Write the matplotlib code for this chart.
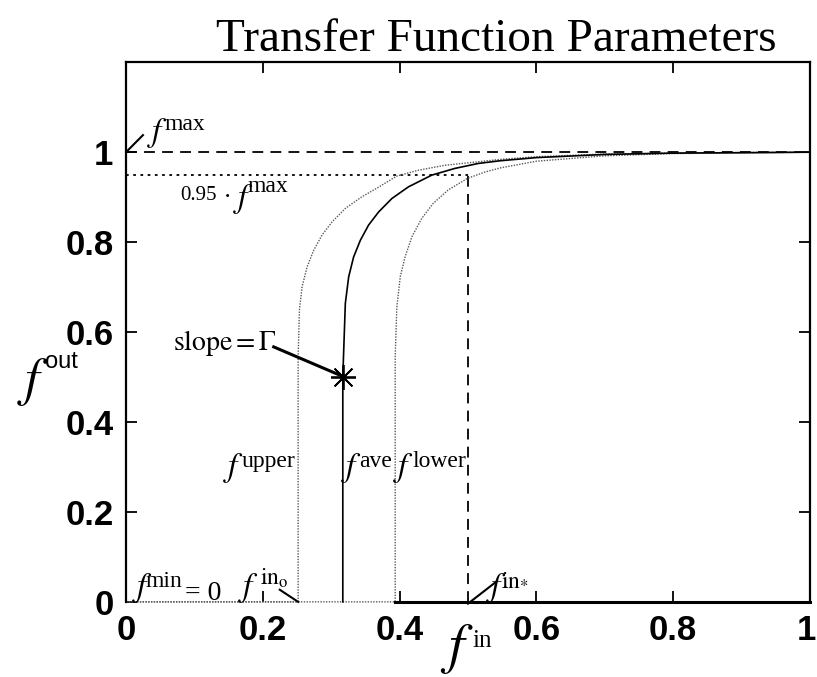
import matplotlib
matplotlib.use("Agg")
import matplotlib.pyplot as plt
from matplotlib.transforms import ScaledTranslation

plt.rcParams["mathtext.fontset"] = "stix"
plt.rcParams["font.family"] = ["Liberation Serif", "DejaVu Serif"]

# Transfer-function curves (f_in, f_out) for the three threshold settings
upper_x = [0.0, 0.2517, 0.2517, 0.2536, 0.2575, 0.2648, 0.2745, 0.2867, 0.3013, 0.3207,
           0.345, 0.369, 0.396, 0.4276, 0.4665, 0.510, 0.547, 0.60, 0.70, 0.80, 1.0]
upper_y = [0.0, 0.0, 0.545, 0.649, 0.701, 0.745, 0.782, 0.816, 0.845, 0.875,
           0.901, 0.922, 0.947, 0.960, 0.971, 0.978, 0.984, 0.990, 0.996, 0.998, 1.0]

ave_x = [0.317, 0.317, 0.318, 0.3207, 0.3256, 0.3328, 0.3426, 0.3547, 0.3693, 0.3887,
         0.413, 0.447, 0.481, 0.515, 0.547, 0.60, 0.70, 0.80, 1.0]
ave_y = [0.0, 0.50, 0.545, 0.664, 0.723, 0.767, 0.804, 0.838, 0.867, 0.897,
         0.923, 0.949, 0.964, 0.975, 0.981, 0.988, 0.995, 0.998, 1.0]

lower_x = [0.0, 0.3936, 0.3936, 0.396, 0.401, 0.408, 0.418, 0.4325, 0.449, 0.471,
           0.4995, 0.525, 0.547, 0.60, 0.70, 0.80, 1.0]
lower_y = [0.0, 0.0, 0.545, 0.656, 0.723, 0.767, 0.812, 0.853, 0.886, 0.916,
           0.942, 0.956, 0.965, 0.980, 0.992, 0.997, 1.0]

f_max = 1.0
f_min = 0.0
f_in_star = 0.5
f_in_o = 0.2517
slope_point = (0.317, 0.5)

x_ticks = [0, 0.2, 0.4, 0.6, 0.8, 1]
x_tick_labels = ["0", "0.2", "0.4", "0.6", "0.8", "1"]
y_ticks = [0, 0.2, 0.4, 0.6, 0.8, 1]
y_tick_labels = ["0", "0.2", "0.4", "0.6", "0.8", "1"]

fig = plt.figure(figsize=(8.17, 6.77), dpi=100)
ax = fig.add_axes([0.1542, 0.111, 0.8372, 0.797])
ax.set_xlim(0, 1)
ax.set_ylim(0, 1.2)

# reference levels
ax.plot([0, 1], [f_max, f_max], color="black", lw=1.3, ls=(0, (6, 4)))
ax.plot([0, f_in_star], [0.95 * f_max, 0.95 * f_max], color="black", lw=1.3,
        ls=(0, (1.5, 2.5)))
ax.plot([f_in_star, f_in_star], [0, 0.95 * f_max], color="black", lw=1.3,
        ls=(0, (6, 4)), clip_on=False)

# curves
ax.plot(upper_x, upper_y, color="0.35", lw=1.0, ls=(0, (1, 1)), clip_on=False)
ax.plot(lower_x, lower_y, color="0.35", lw=1.0, ls=(0, (1, 1)), clip_on=False)
ax.plot(ave_x, ave_y, color="black", lw=1.2, clip_on=False)

ax.plot([slope_point[0]], [slope_point[1]], marker=(8, 2, 0), ms=18, mew=1.3,
        color="black", ls="none")

# axes styling
for side in ["left", "top", "right"]:
    ax.spines[side].set_linewidth(1.6)
ax.spines["bottom"].set_linewidth(2.2)
ax.spines["bottom"].set_bounds(0.394, 1.0)
ax.set_xticks(x_ticks)
ax.set_xticklabels(x_tick_labels)
ax.set_yticks(y_ticks)
ax.set_yticklabels(y_tick_labels)
ax.tick_params(direction="in", length=8, width=1.3, top=True, right=True)
ax.tick_params(axis="x", pad=9)
ax.tick_params(axis="y", pad=9)
for lab in ax.get_xticklabels() + ax.get_yticklabels():
    lab.set_fontfamily("Liberation Sans")
    lab.set_fontweight("bold")
    lab.set_fontsize(25)
# keep the last x tick label inside the figure
last = ax.get_xticklabels()[-1]
last.set_transform(last.get_transform() + ScaledTranslation(-4 / 100, 0, fig.dpi_scale_trans))

ax.set_title("Transfer Function Parameters", fontsize=34, pad=8, x=0.5416,
             fontfamily="Liberation Serif")


def f_label(fx, fy, sx, sy, sup, f_size=24, sup_size=17, sup_family=None):
    """Italic f with a separately sized superscript."""
    ax.text(fx, fy, r"$f$", fontsize=f_size, va="baseline", ha="left", clip_on=False)
    kw = {}
    if sup_family:
        kw["fontfamily"] = sup_family
    ax.text(sx, sy, sup, fontsize=sup_size, va="baseline", ha="left", clip_on=False, **kw)


# f max marker
f_label(0.031, 1.024, 0.056, 1.049, "max")
ax.plot([0.0248, 0.0], [1.038, 1.0], color="black", lw=1.5)

# 0.95 level
ax.text(0.079, 0.893, "0.95", fontsize=15, va="baseline", ha="left")
ax.text(0.142, 0.893, r"$\cdot$", fontsize=18, va="baseline", ha="left")
f_label(0.156, 0.878, 0.178, 0.911, "max")

# slope annotation
ax.text(0.069, 0.56, r"$\mathrm{slope}=\Gamma$", fontsize=20, va="baseline", ha="left")
ax.plot([0.216, slope_point[0] - 0.004], [0.567, slope_point[1] + 0.004],
        color="black", lw=2.2)

# curve names
f_label(0.1416, 0.28, 0.1684, 0.30, "upper")
f_label(0.315, 0.28, 0.3407, 0.30, "ave")
f_label(0.390, 0.28, 0.4195, 0.30, "lower")

# bottom annotations
f_label(0.0088, 0.012, 0.029, 0.033, "min")
ax.text(0.086, 0.004, "= 0", fontsize=20, va="baseline", ha="left")

f_label(0.1635, 0.013, 0.1957, 0.038, r"$\mathrm{in}_{\mathrm{o}}$")
ax.plot([0.2248, f_in_o], [0.027, 0.0], color="black", lw=1.5, clip_on=False)

f_label(0.527, 0.013, 0.549, 0.038, r"$\mathrm{in}_{*}$")
ax.plot([0.539, f_in_star], [0.042, -0.004], color="black", lw=1.5, clip_on=False)

# axis labels
f_label(0.4597, -0.133, 0.5066, -0.10, "in", f_size=40, sup_size=18)
f_label(-0.160, 0.46, -0.118, 0.52, "out", f_size=38, sup_size=17,
        sup_family="Liberation Sans")

fig.savefig("out.png", dpi=100)
